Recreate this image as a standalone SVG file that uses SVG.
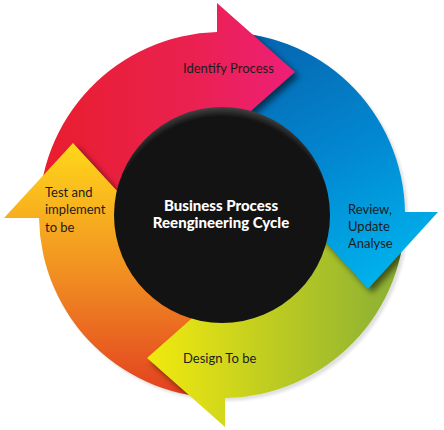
<svg xmlns="http://www.w3.org/2000/svg" width="444" height="430" viewBox="0 0 444 430">
  <style>
    .lbl { font-family: Lato, "Liberation Sans", sans-serif; font-size: 13px; fill: #1c1c1c; }
    .ctr { font-family: Lato, "Liberation Sans", sans-serif; font-size: 15px; font-weight: 900; fill: #ffffff; text-anchor: middle; }
    .shd { fill: #000000; opacity: 0.55; filter: url(#blur); }
  </style>
  <defs>
    <linearGradient id="gRed" gradientUnits="userSpaceOnUse" x1="40" y1="0" x2="296" y2="0">
      <stop offset="0" stop-color="#e91d2d"/>
      <stop offset="0.6" stop-color="#ea2150"/>
      <stop offset="1" stop-color="#ee1f78"/>
    </linearGradient>
    <linearGradient id="gBlue" gradientUnits="userSpaceOnUse" x1="260" y1="40" x2="390" y2="290">
      <stop offset="0" stop-color="#0666b0"/>
      <stop offset="0.5" stop-color="#0288d1"/>
      <stop offset="1" stop-color="#00b6ef"/>
    </linearGradient>
    <linearGradient id="gGreen" gradientUnits="userSpaceOnUse" x1="405" y1="0" x2="147" y2="0">
      <stop offset="0" stop-color="#88ae35"/>
      <stop offset="0.5" stop-color="#bccb22"/>
      <stop offset="1" stop-color="#f2ea0e"/>
    </linearGradient>
    <linearGradient id="gOrange" gradientUnits="userSpaceOnUse" x1="0" y1="395" x2="0" y2="143">
      <stop offset="0" stop-color="#e3401f"/>
      <stop offset="0.45" stop-color="#f08a22"/>
      <stop offset="1" stop-color="#ffd81a"/>
    </linearGradient>
    <radialGradient id="gBlack" cx="0.5" cy="0.56" r="0.56">
      <stop offset="0" stop-color="#131313"/>
      <stop offset="0.92" stop-color="#131313"/>
      <stop offset="1" stop-color="#444444"/>
    </radialGradient>
    <filter id="blur" x="-20%" y="-20%" width="140%" height="140%">
      <feGaussianBlur stdDeviation="3"/>
    </filter>
    <filter id="soft" x="-10%" y="-10%" width="120%" height="120%">
      <feGaussianBlur stdDeviation="1.5"/>
    </filter>
    <clipPath id="cBlue"><path d="M217,32.1 A183,183 0 0 1 405,212 L322,212 A100,100 0 0 0 217,115.1 Z"/></clipPath>
    <clipPath id="cGreen"><path d="M405,212 A183,183 0 0 1 225,398 L225,315 A100,100 0 0 0 322,212 Z"/></clipPath>
    <clipPath id="cOrange"><path d="M225,398 A183,183 0 0 1 39,218 L122,218 A100,100 0 0 0 225,315 Z"/></clipPath>
    <clipPath id="cRed"><path d="M39,218 A183,183 0 0 1 217,32.1 L217,115.1 A100,100 0 0 0 122,218 Z"/></clipPath>
  </defs>

  <!-- faint shadow of the ring -->
  <circle cx="225" cy="218" r="183" fill="#000" opacity="0.12" filter="url(#soft)"/>

  <g id="bodies">
    <path id="body-red" d="M39,218 A183,183 0 0 1 217,32.1 L217,115.1 A100,100 0 0 0 122,218 Z" fill="url(#gRed)"/>
    <path id="body-blue" d="M217,32.1 A183,183 0 0 1 405,212 L322,212 A100,100 0 0 0 217,115.1 Z" fill="url(#gBlue)"/>
    <path id="body-green" d="M405,212 A183,183 0 0 1 225,398 L225,315 A100,100 0 0 0 322,212 Z" fill="url(#gGreen)"/>
    <path id="body-orange" d="M225,398 A183,183 0 0 1 39,218 L122,218 A100,100 0 0 0 225,315 Z" fill="url(#gOrange)"/>
  </g>

  <g id="shadows">
    <g clip-path="url(#cBlue)"><polygon class="shd" points="221,7 299,76 221,145"/></g>
    <g clip-path="url(#cGreen)"><polygon class="shd" points="302,216 372,293 442,216"/></g>
    <g clip-path="url(#cOrange)"><polygon class="shd" points="229,293 151,362 229,431"/></g>
    <g clip-path="url(#cRed)"><polygon class="shd" points="8,222 77,147 146,222"/></g>
  </g>

  <g id="identify-process">
    <polygon points="217,3 295,72 217,141" fill="url(#gRed)"/>
    <text class="lbl" x="183" y="73">Identify Process</text>
  </g>
  <g id="review-update-analyse">
    <polygon points="298,212 368,289 438,212" fill="url(#gBlue)"/>
    <text class="lbl" x="348" y="214">Review,</text>
    <text class="lbl" x="348" y="231">Update</text>
    <text class="lbl" x="348" y="248">Analyse</text>
  </g>
  <g id="design-to-be">
    <polygon points="225,289 147,358 225,427" fill="url(#gGreen)"/>
    <text class="lbl" x="183" y="363">Design To be</text>
  </g>
  <g id="test-and-implement">
    <polygon points="4,218 73,143 142,218" fill="url(#gOrange)"/>
    <text class="lbl" x="45" y="197">Test and</text>
    <text class="lbl" x="45" y="214">implement</text>
    <text class="lbl" x="45" y="232">to be</text>
  </g>

  <g id="center">
    <circle cx="222" cy="215" r="108" fill="url(#gBlack)"/>
    <text class="ctr" x="221" y="211">Business Process</text>
    <text class="ctr" x="221" y="228">Reengineering Cycle</text>
  </g>
</svg>
